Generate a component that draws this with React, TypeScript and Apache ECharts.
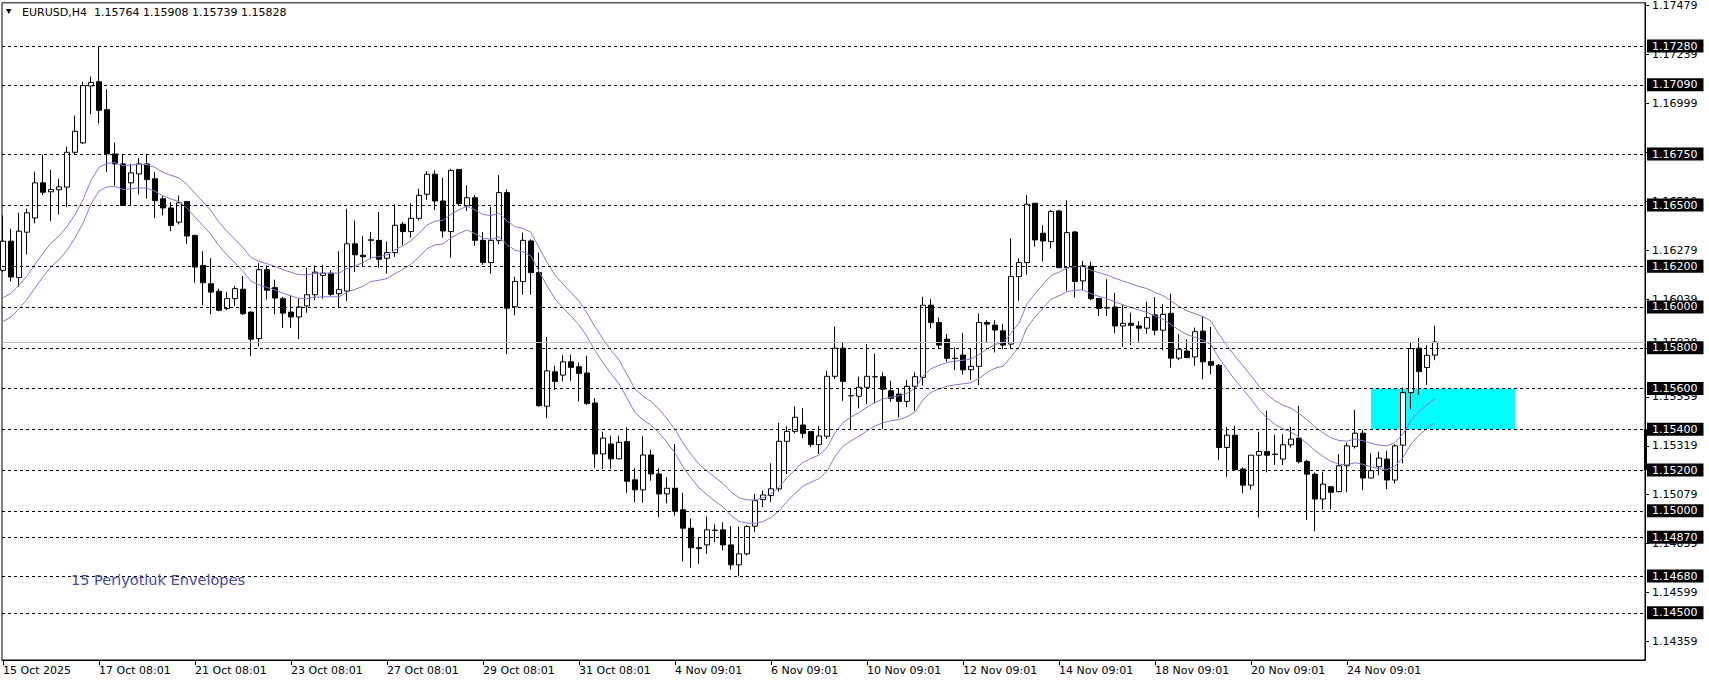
import React, { useEffect, useRef } from "react";
import * as echarts from "echarts";

// ---- data (EURUSD H4) ----
const opens = [1.16180,1.16323,1.16144,1.16367,1.16437,1.16609,1.16565,1.16575,1.16588,1.16759,
1.16805,1.17084,1.17105,1.16968,1.16751,1.16702,1.16609,1.16653,1.16702,1.16629,
1.16531,1.16486,1.16416,1.16517,1.16351,1.16204,1.16114,1.16077,1.15992,1.16041,
1.16087,1.15975,1.15845,1.16183,1.16095,1.16041,1.15975,1.15951,1.16005,1.16060,
1.16155,1.16166,1.16065,1.16078,1.16310,1.16254,1.16327,1.16327,1.16239,1.16267,
1.16406,1.16370,1.16435,1.16553,1.16651,1.16520,1.16370,1.16675,1.16496,1.16536,
1.16327,1.16218,1.16327,1.16561,1.16001,1.16125,1.16324,1.16169,1.15513,1.15682,
1.15666,1.15731,1.15707,1.15676,1.15529,1.15279,1.15328,1.15255,1.15340,1.15152,
1.15103,1.15274,1.15181,1.15083,1.15111,1.15005,1.14915,1.14819,1.14833,1.14904,
1.14907,1.14833,1.14735,1.14789,1.14925,1.15055,1.15075,1.15108,1.15341,1.15390,
1.15421,1.15389,1.15325,1.15366,1.15660,1.15798,1.15565,1.15562,1.15606,1.15658,
1.15658,1.15589,1.15573,1.15537,1.15611,1.15655,1.16009,1.15924,1.15842,1.15748,
1.15764,1.15692,1.15709,1.15924,1.15911,1.15883,1.15818,1.16149,1.16218,1.16509,
1.16362,1.16321,1.16471,1.16193,1.16368,1.16128,1.16200,1.16042,1.15997,1.16000,
1.15907,1.15920,1.15907,1.15896,1.15961,1.15886,1.15969,1.15749,1.15784,1.15755,
1.15882,1.15732,1.15714,1.15311,1.15371,1.15205,1.15126,1.15273,1.15291,1.15278,
1.15254,1.15324,1.15357,1.15242,1.15180,1.15058,1.15118,1.15094,1.15221,1.15316,
1.15381,1.15161,1.15216,1.15254,1.15151,1.15322,1.15580,1.15798,1.15703,1.15764];

const highs = [1.16449,1.16384,1.16462,1.16482,1.16664,1.16748,1.16673,1.16629,1.16787,1.16939,
1.17105,1.17130,1.17280,1.17069,1.16805,1.16751,1.16702,1.16731,1.16751,1.16661,
1.16544,1.16514,1.16547,1.16520,1.16355,1.16273,1.16240,1.16090,1.16073,1.16103,
1.16152,1.15978,1.16215,1.16204,1.16134,1.16049,1.16057,1.16041,1.16193,1.16204,
1.16207,1.16180,1.16273,1.16482,1.16424,1.16349,1.16368,1.16466,1.16321,1.16504,
1.16417,1.16509,1.16580,1.16667,1.16670,1.16634,1.16678,1.16675,1.16597,1.16548,
1.16368,1.16491,1.16647,1.16577,1.16148,1.16365,1.16332,1.16267,1.15854,1.15712,
1.15764,1.15766,1.15728,1.15761,1.15553,1.15388,1.15369,1.15369,1.15410,1.15211,
1.15366,1.15300,1.15211,1.15165,1.15328,1.15088,1.14961,1.14868,1.14972,1.14933,
1.14944,1.14925,1.14923,1.14931,1.15083,1.15100,1.15233,1.15431,1.15415,1.15513,
1.15504,1.15390,1.15415,1.15687,1.15903,1.15823,1.15597,1.15658,1.15818,1.15772,
1.15679,1.15638,1.15597,1.15643,1.15679,1.16050,1.16038,1.15949,1.15867,1.15802,
1.15872,1.15798,1.15968,1.15935,1.15935,1.15916,1.16337,1.16239,1.16548,1.16509,
1.16402,1.16476,1.16476,1.16523,1.16373,1.16226,1.16222,1.16042,1.16136,1.16070,
1.16013,1.15972,1.15931,1.16026,1.16049,1.16013,1.16065,1.15866,1.15842,1.15899,
1.15956,1.15902,1.15720,1.15412,1.15417,1.15213,1.15273,1.15388,1.15491,1.15373,
1.15376,1.15412,1.15515,1.15251,1.15188,1.15192,1.15122,1.15278,1.15335,1.15495,
1.15397,1.15282,1.15290,1.15295,1.15327,1.15605,1.15829,1.15847,1.15814,1.15908];

const lows = [1.16171,1.16126,1.16098,1.16258,1.16411,1.16550,1.16421,1.16454,1.16490,1.16748,
1.16800,1.16945,1.16900,1.16661,1.16596,1.16495,1.16501,1.16552,1.16531,1.16436,
1.16449,1.16372,1.16405,1.16310,1.16119,1.16008,1.15964,1.15979,1.15984,1.16005,
1.15962,1.15760,1.15807,1.16037,1.15964,1.15897,1.15897,1.15842,1.15972,1.16033,
1.16041,1.16052,1.16000,1.16029,1.16171,1.16202,1.16234,1.16193,1.16164,1.16246,
1.16305,1.16340,1.16425,1.16525,1.16476,1.16340,1.16242,1.16496,1.16471,1.16300,
1.16207,1.16164,1.16308,1.15769,1.15960,1.16060,1.16060,1.15511,1.15455,1.15593,
1.15635,1.15638,1.15537,1.15519,1.15211,1.15206,1.15206,1.15255,1.15088,1.15042,
1.15039,1.15148,1.14969,1.15037,1.14977,1.14753,1.14721,1.14740,1.14789,1.14846,
1.14806,1.14711,1.14678,1.14781,1.14895,1.15018,1.15042,1.15095,1.15181,1.15380,
1.15356,1.15312,1.15279,1.15353,1.15647,1.15540,1.15397,1.15503,1.15524,1.15527,
1.15402,1.15535,1.15459,1.15508,1.15491,1.15614,1.15895,1.15798,1.15731,1.15691,
1.15668,1.15642,1.15617,1.15826,1.15777,1.15793,1.15797,1.16030,1.16158,1.16296,
1.16223,1.16287,1.16193,1.16079,1.16047,1.16082,1.16034,1.15956,1.15956,1.15871,
1.15804,1.15814,1.15830,1.15869,1.15861,1.15788,1.15703,1.15739,1.15749,1.15711,
1.15646,1.15670,1.15249,1.15167,1.15197,1.15086,1.15104,1.14968,1.15189,1.15226,
1.15224,1.15311,1.15233,1.14955,1.14900,1.15006,1.15006,1.15091,1.15091,1.15306,
1.15102,1.15161,1.15175,1.15107,1.15135,1.15233,1.15499,1.15569,1.15618,1.15739];

const closes = [1.16323,1.16147,1.16372,1.16462,1.16609,1.16563,1.16576,1.16589,1.16759,1.16862,
1.17086,1.17102,1.16965,1.16751,1.16702,1.16498,1.16658,1.16702,1.16625,1.16522,
1.16486,1.16400,1.16511,1.16348,1.16196,1.16119,1.16073,1.15984,1.16041,1.16090,
1.15967,1.15842,1.16183,1.16082,1.16044,1.15970,1.15951,1.16000,1.16060,1.16171,
1.16166,1.16062,1.16085,1.16310,1.16256,1.16247,1.16330,1.16234,1.16267,1.16401,
1.16370,1.16435,1.16548,1.16651,1.16520,1.16373,1.16670,1.16507,1.16536,1.16327,
1.16218,1.16327,1.16561,1.15994,1.16125,1.16327,1.16169,1.15516,1.15687,1.15635,
1.15731,1.15704,1.15674,1.15527,1.15279,1.15357,1.15255,1.15336,1.15145,1.15103,
1.15274,1.15181,1.15083,1.15111,1.14998,1.14915,1.14819,1.14815,1.14907,1.14905,
1.14833,1.14735,1.14789,1.14923,1.15050,1.15078,1.15108,1.15341,1.15390,1.15459,
1.15380,1.15325,1.15367,1.15660,1.15798,1.15635,1.15565,1.15606,1.15660,1.15658,
1.15597,1.15552,1.15537,1.15611,1.15658,1.16009,1.15924,1.15813,1.15748,1.15748,
1.15692,1.15709,1.15924,1.15916,1.15887,1.15813,1.16149,1.16218,1.16504,1.16329,
1.16324,1.16468,1.16193,1.16365,1.16125,1.16202,1.16041,1.15993,1.15995,1.15907,
1.15920,1.15910,1.15896,1.15948,1.15886,1.15964,1.15749,1.15793,1.15752,1.15879,
1.15731,1.15714,1.15311,1.15371,1.15202,1.15126,1.15273,1.15291,1.15273,1.15277,
1.15324,1.15352,1.15241,1.15180,1.15058,1.15131,1.15091,1.15221,1.15319,1.15381,
1.15161,1.15197,1.15259,1.15151,1.15319,1.15580,1.15796,1.15683,1.15763,1.15828];

// centre line of the 15-period envelopes
const envMid = [1.15987,1.16009,1.16049,1.16095,1.16151,1.16206,1.16255,1.16290,1.16336,1.16396,
1.16469,1.16563,1.16627,1.16647,1.16650,1.16635,1.16638,1.16642,1.16641,1.16626,
1.16603,1.16588,1.16575,1.16543,1.16500,1.16457,1.16414,1.16358,1.16313,1.16274,
1.16233,1.16185,1.16166,1.16154,1.16141,1.16126,1.16112,1.16100,1.16100,1.16106,
1.16108,1.16108,1.16108,1.16131,1.16144,1.16160,1.16183,1.16189,1.16198,1.16222,
1.16243,1.16267,1.16303,1.16344,1.16363,1.16367,1.16397,1.16419,1.16436,1.16418,
1.16396,1.16390,1.16402,1.16364,1.16336,1.16328,1.16308,1.16233,1.16162,1.16098,
1.16054,1.16013,1.15971,1.15913,1.15845,1.15784,1.15730,1.15682,1.15611,1.15540,
1.15505,1.15478,1.15441,1.15393,1.15342,1.15274,1.15220,1.15170,1.15138,1.15106,
1.15077,1.15035,1.15006,1.14997,1.14996,1.15006,1.15025,1.15058,1.15104,1.15143,
1.15180,1.15199,1.15216,1.15252,1.15325,1.15375,1.15402,1.15424,1.15451,1.15473,
1.15491,1.15500,1.15506,1.15519,1.15542,1.15603,1.15639,1.15656,1.15669,1.15676,
1.15681,1.15686,1.15708,1.15736,1.15758,1.15767,1.15813,1.15863,1.15957,1.16008,
1.16053,1.16096,1.16113,1.16133,1.16140,1.16142,1.16123,1.16110,1.16099,1.16083,
1.16069,1.16056,1.16043,1.16032,1.16013,1.15998,1.15972,1.15945,1.15923,1.15909,
1.15895,1.15873,1.15808,1.15753,1.15700,1.15654,1.15606,1.15554,1.15513,1.15482,
1.15460,1.15445,1.15420,1.15389,1.15354,1.15325,1.15300,1.15287,1.15284,1.15294,
1.15286,1.15274,1.15264,1.15261,1.15278,1.15319,1.15386,1.15429,1.15463,1.15491];
const envDeviation = 0.0005; // 0.05 %

const timeLabels = ["15 Oct 2025","17 Oct 08:01","21 Oct 08:01","23 Oct 08:01","27 Oct 08:01",
  "29 Oct 08:01","31 Oct 08:01","4 Nov 09:01","6 Nov 09:01","10 Nov 09:01","12 Nov 09:01",
  "14 Nov 09:01","18 Nov 09:01","20 Nov 09:01","24 Nov 09:01"];
const timeLabelBars = [0,12,24,36,48,60,72,84,96,108,120,132,144,156,168];

const priceTicks = [1.17479,1.17239,1.16999,1.16759,1.16519,1.16279,1.16039,1.15799,
  1.15559,1.15319,1.15079,1.14839,1.14599,1.14359];
const levelPrices = [1.1728,1.1709,1.1675,1.165,1.162,1.16,1.158,1.156,1.154,1.152,
  1.15,1.1487,1.1468,1.145];
const bidPrice = 1.15828;
const zoneBars = [171, 189];
const zonePrices = [1.156, 1.154];
const markerPrices = [1.154, 1.152];

const symbolTitle = "EURUSD,H4";
const ohlcTitle = "1.15764 1.15908 1.15739 1.15828";
const indicatorTitle = "15 Periyotluk Envelopes";

// axis extents (view window)
const xMin = -0.125;
const xMax = 205.25;
const yMin = 1.142683;
const yMax = 1.174921;

const FONT = "DejaVu Sans";

export default function App() {
  const ref = useRef<HTMLDivElement>(null);
  useEffect(() => {
    if (!ref.current) return;
    const chart = echarts.init(ref.current, undefined, { renderer: "svg" });
    const candleData = opens.map((o, i) => [i, o, closes[i], lows[i], highs[i]]);
    const upper = envMid.map((m, i) => [i, +(m * (1 + envDeviation)).toFixed(5)]);
    const lower = envMid.map((m, i) => [i, +(m * (1 - envDeviation)).toFixed(5)]);

    const levelLines: any[] = levelPrices.map((p) => ({
      yAxis: p,
      lineStyle: { type: [3, 3], color: "#000", width: 1 },
      label: {
        show: true,
        position: "end",
        formatter: p.toFixed(5),
        color: "#fff",
        backgroundColor: "#000",
        padding: [1, 6, 1, 5],
        fontSize: 11,
        lineHeight: 11,
        fontFamily: FONT,
        distance: 2,
      },
    }));
    const bidLine = {
      yAxis: bidPrice,
      lineStyle: { type: "solid", color: "#c0c0c0", width: 1 },
      label: {
        show: true,
        position: "end",
        formatter: bidPrice.toFixed(5),
        color: "#000",
        fontSize: 11,
        fontFamily: FONT,
        distance: 7,
      },
    };
    const marker = [
      { coord: [xMax, markerPrices[0]], lineStyle: { type: "solid", color: "#000", width: 3 }, label: { show: false } },
      { coord: [xMax, markerPrices[1]] },
    ];

    chart.setOption({
      animation: false,
      backgroundColor: "#fff",
      textStyle: { fontFamily: FONT },
      grid: { left: 2, top: 2, right: 64, bottom: 24, show: true, borderColor: "#000", borderWidth: 1, backgroundColor: "#fff" },
      xAxis: {
        type: "value",
        min: xMin,
        max: xMax,
        axisLine: { show: true, onZero: false, lineStyle: { color: "#000", width: 1 } },
        axisTick: { show: true, inside: false, length: 5, lineStyle: { color: "#000" }, customValues: timeLabelBars },
        axisLabel: {
          customValues: timeLabelBars,
          formatter: (v: number) => {
            const k = timeLabelBars.indexOf(Math.round(v));
            return k >= 0 ? timeLabels[k] : "";
          },
          align: "left",
          margin: 5,
          color: "#000",
          fontSize: 11,
          fontFamily: FONT,
        },
        splitLine: { show: false },
      },
      yAxis: {
        type: "value",
        position: "right",
        min: yMin,
        max: yMax,
        axisLine: { show: true, onZero: false, lineStyle: { color: "#000", width: 1 } },
        axisTick: { show: true, inside: false, length: 4, lineStyle: { color: "#000" }, customValues: priceTicks },
        axisLabel: {
          customValues: priceTicks,
          formatter: (v: number) => v.toFixed(5),
          margin: 7,
          color: "#000",
          fontSize: 11,
          fontFamily: FONT,
        },
        splitLine: { show: false },
      },
      series: [
        {
          type: "line",
          data: [],
          z: 1,
          silent: true,
          markArea: {
            silent: true,
            precision: 5,
            itemStyle: { color: "#00ffff", opacity: 1 },
            data: [[{ coord: [zoneBars[0], zonePrices[0]] }, { coord: [zoneBars[1], zonePrices[1]] }]],
          },
          markLine: {
            silent: true,
            precision: 5,
            symbol: ["none", "none"],
            animation: false,
            data: [bidLine, ...levelLines, marker],
          },
        },
        {
          type: "candlestick",
          data: candleData,
          barWidth: 5,
          z: 3,
          itemStyle: { color: "#fff", color0: "#000", borderColor: "#000", borderColor0: "#000", borderWidth: 1 },
        },
        {
          type: "line",
          data: upper,
          symbol: "none",
          z: 4,
          lineStyle: { color: "#9370DB", width: 1 },
        },
        {
          type: "line",
          data: lower,
          symbol: "none",
          z: 4,
          lineStyle: { color: "#9370DB", width: 1 },
        },
      ],
      graphic: [
        { type: "polygon", shape: { points: [[6, 9], [11.5, 9], [8.75, 14]] }, style: { fill: "#000" }, z: 10 },
        { type: "text", x: 22, y: 12, style: { text: symbolTitle, fill: "#000", font: `11px "${FONT}"`, verticalAlign: "middle" }, z: 10 },
        { type: "text", x: 94, y: 12, style: { text: ohlcTitle, fill: "#000", font: `11px "${FONT}"`, verticalAlign: "middle" }, z: 10 },
        { type: "text", x: 71, y: 580, style: { text: indicatorTitle, fill: "#4848a8", font: `14.5px "${FONT}"`, verticalAlign: "middle" }, z: 10 },
      ],
    });
    return () => chart.dispose();
  }, []);
  return <div ref={ref} style={{ position: "absolute", left: 0, top: 0, width: 1709, height: 684 }} />;
}
